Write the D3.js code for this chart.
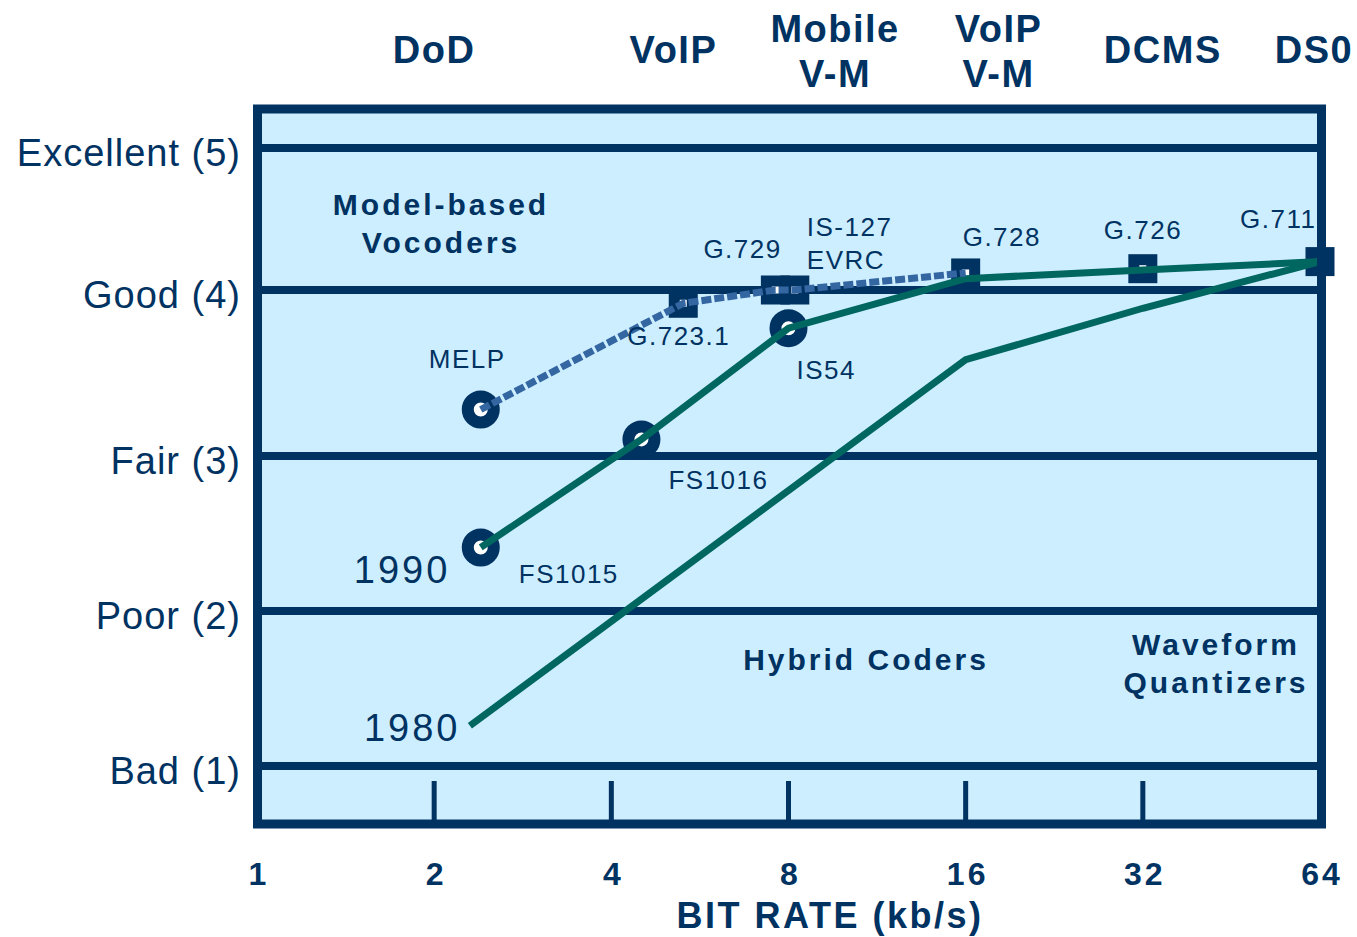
<!DOCTYPE html>
<html>
<head>
<meta charset="utf-8">
<script src="https://d3js.org/d3.v7.min.js"></script>
<style>
body { margin: 0; background: #ffffff; }
text { font-family: "Liberation Sans", Arial, sans-serif; fill: #003262; }
</style>
</head>
<body>
<div id="graph_draw"></div>
<script>
// x axis : bit rate (kb/s), log scale
var rateTicks = [1, 2, 4, 8, 16, 32, 64];
var innerTicks = [2, 4, 8, 16, 32];

// y axis : quality
var qualityTicks = [1, 2, 3, 4, 5];
var qualityLabels = ["Bad (1)", "Poor (2)", "Fair (3)", "Good (4)", "Excellent (5)"];

// applications written on top of the chart
var topLabels = [["DoD"], ["VoIP"], ["Mobile", "V-M"], ["VoIP", "V-M"], ["DCMS"], ["DS0"]];
var topRates = [2, 5.1, 9.6, 18.2, 34.6, 62.5];

// coders (markers)
var coderNames = [["MELP"], ["G.723.1"], ["G.729"], ["IS-127", "EVRC"], ["G.728"], ["G.726"], ["G.711"], ["IS54"], ["FS1016"], ["FS1015"]];
var coderRates = [2.4, 5.3, 7.6, 8.2, 16, 32, 64, 8, 4.5, 2.4];
var coderMos = [3.28, 3.92, 4.0, 4.0, 4.12, 4.15, 4.2, 3.77, 3.1, 2.41];
var coderShapes = ["circle", "square", "square", "square", "square", "square", "square", "circle", "circle", "circle"];

// model-based vocoders (dashed)
var modelRates = [2.4, 5.3, 7.6, 8.2, 16];
var modelMos = [3.28, 3.92, 4.0, 4.0, 4.12];

// state of the art in 1990
var rates1990 = [2.4, 4.5, 8, 16, 32, 64];
var mos1990 = [2.41, 3.1, 3.77, 4.08, 4.14, 4.2];

// state of the art in 1980
var rates1980 = [2.3, 16, 32, 64];
var mos1980 = [1.26, 3.58, 3.89, 4.2];

// label offsets from the marker centre (text start, baseline)
var labelOffsets = [[-52, -42], [-56, 42], [-72, -32], [12, -54], [-3, -27], [-39, -30], [-80, -34], [8, 51], [27, 50], [38, 36]];

var navy = "#003262", green = "#006660", blue = "#3466a2", fill = "#cdeeff";

var width = 1357, height = 937;
var box = {left: 257.5, top: 109, right: 1321.5, bottom: 824};

var svg = d3.select("#graph_draw").append("svg")
    .attr("width", width)
    .attr("height", height);

// scales
var x = d3.scaleLog().base(2).domain([1, 64]).range([257, 1320]);
var y = d3.scaleLinear().domain(qualityTicks).range([766, 611, 456, 290, 148]);

// background of the plot
svg.append("rect")
    .attr("x", box.left).attr("y", box.top)
    .attr("width", box.right - box.left).attr("height", box.bottom - box.top)
    .attr("fill", fill);

// horizontal quality lines
svg.selectAll(".grid")
    .data(qualityTicks)
    .enter().append("line")
    .attr("x1", box.left).attr("x2", box.right)
    .attr("y1", function(d) { return y(d); })
    .attr("y2", function(d) { return y(d); })
    .attr("stroke", navy)
    .attr("stroke-width", 8);

// small ticks on the bottom
svg.selectAll(".tick-in")
    .data(innerTicks)
    .enter().append("line")
    .attr("x1", function(d) { return x(d); })
    .attr("x2", function(d) { return x(d); })
    .attr("y1", 781).attr("y2", box.bottom)
    .attr("stroke", navy)
    .attr("stroke-width", 5);

// markers
var coders = coderNames.map(function(n, i) {
    return {name: n, rate: coderRates[i], mos: coderMos[i], shape: coderShapes[i], off: labelOffsets[i]};
});

svg.selectAll(".mk-circle")
    .data(coders.filter(function(d) { return d.shape == "circle"; }))
    .enter().append("circle")
    .attr("cx", function(d) { return x(d.rate); })
    .attr("cy", function(d) { return y(d.mos); })
    .attr("r", 13)
    .attr("fill", "#ffffff")
    .attr("stroke", navy)
    .attr("stroke-width", 12);

svg.selectAll(".mk-square")
    .data(coders.filter(function(d) { return d.shape == "square"; }))
    .enter().append("rect")
    .attr("x", function(d) { return x(d.rate) - 9; })
    .attr("y", function(d) { return y(d.mos) - 9; })
    .attr("width", 18).attr("height", 18)
    .attr("fill", "#ffffff")
    .attr("stroke", navy)
    .attr("stroke-width", 11);

// the curves
var line = d3.line()
    .x(function(d) { return x(d[0]); })
    .y(function(d) { return y(d[1]); });

svg.append("path")
    .datum(d3.zip(rates1980, mos1980))
    .attr("d", line)
    .attr("fill", "none")
    .attr("stroke", green)
    .attr("stroke-width", 7);

svg.append("path")
    .datum(d3.zip(rates1990, mos1990))
    .attr("d", line)
    .attr("fill", "none")
    .attr("stroke", green)
    .attr("stroke-width", 7);

svg.append("path")
    .datum(d3.zip(modelRates, modelMos))
    .attr("d", line)
    .attr("fill", "none")
    .attr("stroke", blue)
    .attr("stroke-width", 7)
    .attr("stroke-dasharray", "10,3");

// coder names
coders.forEach(function(d) {
    var t = svg.append("text")
        .attr("x", x(d.rate) + d.off[0])
        .attr("y", y(d.mos) + d.off[1])
        .style("font-size", "26px")
        .style("letter-spacing", "1.5px");
    d.name.forEach(function(s, j) {
        t.append("tspan")
            .attr("x", x(d.rate) + d.off[0])
            .attr("dy", j == 0 ? 0 : 33)
            .text(s);
    });
});

// year labels
svg.append("text")
    .attr("x", x(rates1990[0]) - 127).attr("y", y(mos1990[0]) + 36)
    .style("font-size", "38px").style("letter-spacing", "3px")
    .text("1990");
svg.append("text")
    .attr("x", x(rates1980[0]) - 106).attr("y", y(mos1980[0]) + 15)
    .style("font-size", "38px").style("letter-spacing", "3px")
    .text("1980");

// region names
function region(lines, cx, y0) {
    var t = svg.append("text")
        .attr("text-anchor", "middle")
        .style("font-size", "30px")
        .style("font-weight", "bold")
        .style("letter-spacing", "3px");
    lines.forEach(function(s, j) {
        t.append("tspan").attr("x", cx).attr("y", y0 + j * 38).text(s);
    });
}
region(["Model-based", "Vocoders"], 441, 215);
region(["Hybrid Coders"], 866, 670);
region(["Waveform", "Quantizers"], 1216, 655);

// frame on top
svg.append("rect")
    .attr("x", box.left).attr("y", box.top)
    .attr("width", box.right - box.left).attr("height", box.bottom - box.top)
    .attr("fill", "none")
    .attr("stroke", navy)
    .attr("stroke-width", 9);

// y labels
svg.selectAll(".ylab")
    .data(qualityTicks)
    .enter().append("text")
    .attr("x", 241)
    .attr("y", function(d) { return y(d) + 18; })
    .attr("text-anchor", "end")
    .style("font-size", "38px")
    .style("letter-spacing", "1px")
    .text(function(d, i) { return qualityLabels[i]; });

// x labels
svg.selectAll(".xlab")
    .data(rateTicks)
    .enter().append("text")
    .attr("x", function(d) { return x(d) + 2; })
    .attr("y", 885)
    .attr("text-anchor", "middle")
    .style("font-size", "32px")
    .style("font-weight", "bold")
    .style("letter-spacing", "3px")
    .text(function(d) { return d; });

svg.append("text")
    .attr("x", 830).attr("y", 928)
    .attr("text-anchor", "middle")
    .style("font-size", "36px")
    .style("font-weight", "bold")
    .style("letter-spacing", "2.5px")
    .text("BIT RATE (kb/s)");

// application names on top
topLabels.forEach(function(lines, i) {
    var t = svg.append("text")
        .attr("text-anchor", "middle")
        .style("font-size", "38px")
        .style("font-weight", "bold")
        .style("letter-spacing", "1.5px");
    var y0 = lines.length == 1 ? 63 : 42;
    lines.forEach(function(s, j) {
        t.append("tspan").attr("x", x(topRates[i])).attr("y", y0 + j * 45).text(s);
    });
});
</script>
</body>
</html>
